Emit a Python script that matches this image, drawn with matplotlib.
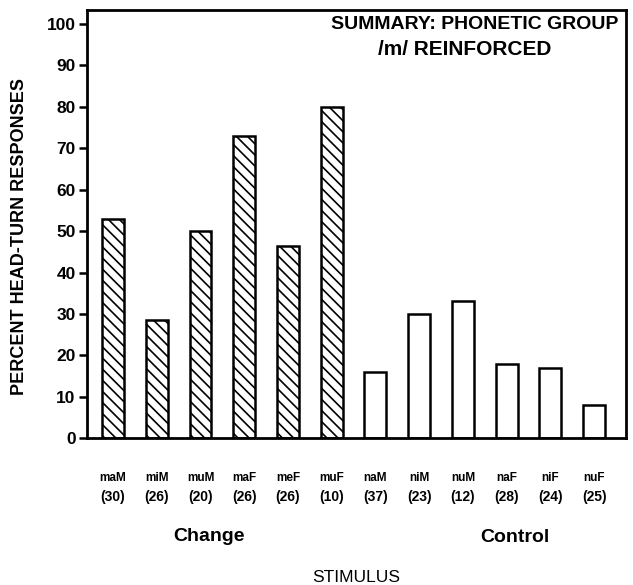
import numpy as np
import matplotlib.pyplot as plt

# -----------------------------
# Data
# -----------------------------
stimuli = ["maM", "miM", "muM", "maF", "meF", "muF",
           "naM", "niM", "nuM", "naF", "niF", "nuF"]
counts = ["(30)", "(26)", "(20)", "(26)", "(26)", "(10)",
          "(37)", "(23)", "(12)", "(28)", "(24)", "(25)"]
change_vals = [53, 28.5, 50, 73, 46.5, 80]
control_vals = [16, 30, 33, 18, 17, 8]

plt.rcParams['font.family'] = ['Liberation Sans', 'DejaVu Sans']
plt.rcParams['hatch.linewidth'] = 1.2

fig = plt.figure(figsize=(6.33, 5.85), dpi=100)
ax = fig.add_axes([0.137, 0.251, 0.852, 0.732])

x_change = np.arange(len(change_vals))
x_control = np.arange(len(control_vals)) + len(change_vals)

ax.bar(x_change, change_vals, width=0.5, color="white", edgecolor="black",
       linewidth=1.8, hatch="\\\\\\")
ax.bar(x_control, control_vals, width=0.5, color="white", edgecolor="black",
       linewidth=1.8)

ax.set_xlim(-0.6, 11.73)
ax.set_ylim(0, 103.4)
ax.set_yticks(np.arange(0, 101, 10))
ax.tick_params(axis="y", length=6, width=1.8, labelsize=12.5, pad=2)
for lbl in ax.get_yticklabels():
    lbl.set_fontweight("bold")
ax.set_xticks([])
for s in ax.spines.values():
    s.set_linewidth(2)

# stimulus names and counts under each bar
all_x = np.concatenate([x_change, x_control])
for xi, name, n in zip(all_x, stimuli, counts):
    ax.text(xi, -0.093, name, transform=ax.get_xaxis_transform(),
            ha="center", va="center", fontsize=8.5, fontweight="bold")
    ax.text(xi, -0.137, n, transform=ax.get_xaxis_transform(),
            ha="center", va="center", fontsize=10, fontweight="bold")

ax.text(2.2, -0.229, "Change", transform=ax.get_xaxis_transform(),
        ha="center", va="center", fontsize=14, fontweight="bold")
ax.text(9.2, -0.232, "Control", transform=ax.get_xaxis_transform(),
        ha="center", va="center", fontsize=14, fontweight="bold")
ax.text(0.5, -0.325, "STIMULUS", transform=ax.transAxes,
        ha="center", va="center", fontsize=12.5)

ax.set_ylabel("PERCENT HEAD-TURN RESPONSES", fontsize=13, fontweight="bold")
ax.yaxis.set_label_coords(-0.109, 0.472)

ax.text(0.985, 0.965, "SUMMARY: PHONETIC GROUP", transform=ax.transAxes,
        ha="right", va="center", fontsize=14, fontweight="bold")
ax.text(0.701, 0.907, "/m/ REINFORCED", transform=ax.transAxes,
        ha="center", va="center", fontsize=15, fontweight="bold")

plt.savefig("out.png", dpi=100)
